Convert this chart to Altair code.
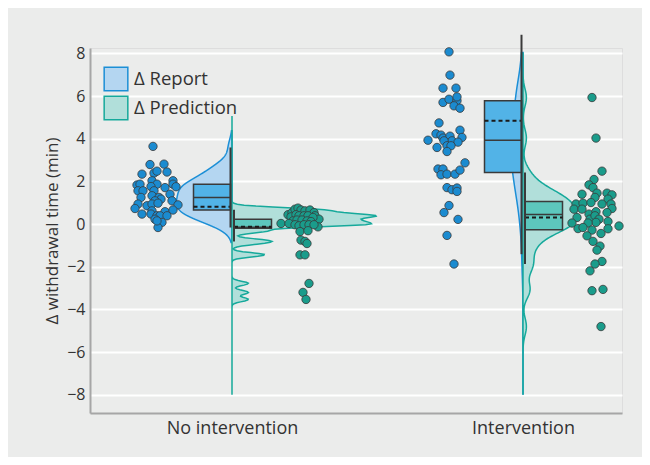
import altair as alt
import pandas as pd

categories = ["No intervention", "Intervention"]
series_names = ["Δ Report", "Δ Prediction"]

noint_report_v = [3.64, 2.79, 2.81, 2.34, 2.39, 2.48, 2.44, 2.03, 1.83, 1.87, 2.03, 1.87, 1.76, 1.71, 1.87,
                  1.56, 1.56, 1.56, 1.40, 1.75, 1.33, 1.25, 1.25, 1.17, 1.09, 1.09, 0.94, 0.86, 0.94, 0.98,
                  0.90, 0.73, 0.62, 0.58, 0.66, 0.47, 0.47, 0.39, 0.39, 0.23, 0.39, 0.08, -0.16, 0.15]
noint_report_j = [-79, -82, -68, -90, -78, -75, -65, -59, -95, -92, -80, -75, -81, -67, -59,
                  -94, -89, -78, -62, -56, -80, -73, -91, -71, -77, -60, -94, -85, -80, -74,
                  -54, -97, -80, -67, -59, -90, -81, -75, -72, -77, -65, -70, -74, -75]

noint_pred_v = [0.03, 0.44, 0.54, 0.70, 0.75, 0.66, 0.62, 0.66, 0.54, 0.39, 0.23, -0.13, 0.34, 0.44, 0.39,
                0.39, 0.39, 0.31, 0.15, 0.19, 0.19, 0.15, 0.12, 0.03, -0.03, -0.08, -0.03, -0.03, -0.03,
                -0.35, -0.31, -0.75, -0.81, -0.91, -1.44, -1.44, -2.78, -3.20, -3.53]
noint_pred_j = [49, 56, 60, 63, 66, 69, 73, 78, 82, 83, 87, 86, 59, 64, 67,
                72, 76, 81, 61, 65, 70, 75, 79, 57, 63, 67, 72, 77, 82,
                68, 76, 69, 73, 75, 68, 73, 77, 71, 74]

int_report_v = [8.07, 6.98, 6.37, 6.37, 5.70, 5.85, 5.78, 5.96, 5.54, 5.43, 4.74, 4.40, 4.23, 3.93, 4.17,
                4.03, 4.12, 3.90, 3.90, 4.06, 3.84, 3.59, 3.67, 3.67, 3.40, 2.87, 2.58, 2.58, 2.31, 2.34,
                2.34, 2.53, 1.71, 1.61, 1.69, 1.53, 0.87, 0.54, 0.22, -0.53, -1.87]
int_report_j = [-74, -73, -80, -67, -80, -74, -66, -66, -69, -63, -84, -63, -87, -95, -82,
                -80, -73, -71, -79, -61, -65, -86, -76, -72, -76, -58, -85, -80, -82, -76,
                -68, -63, -76, -71, -66, -66, -74, -79, -65, -76, -69]

int_pred_v = [5.93, 4.03, 2.48, 2.09, 1.84, 1.71, 1.45, 1.40, 1.45, 1.37, 1.25, 1.17, 0.94, 0.98, 1.01,
              0.94, 0.94, 0.70, 0.70, 0.73, 0.47, 0.58, 0.54, 0.31, 0.23, 0.39, 0.23, 0.08, 0.05, 0.05,
              0.12, -0.21, -0.16, -0.28, -0.22, -0.09, -0.44, -0.55, -0.81, -1.03, -1.22, -1.75, -1.87,
              -2.19, -3.12, -3.06, -4.80]
int_pred_j = [69, 73, 79, 71, 66, 70, 74, 59, 84, 89, 72, 85, 53, 60, 68,
              79, 88, 51, 59, 89, 66, 73, 84, 54, 67, 72, 76, 73, 49, 65,
              85, 55, 60, 69, 85, 96, 78, 64, 70, 77, 74, 79, 72,
              67, 69, 80, 78]

# ---- box statistics: order (No int, Report), (No int, Pred), (Int, Report), (Int, Pred) ----
box_group = ["No intervention", "No intervention", "Intervention", "Intervention"]
box_series = ["Δ Report", "Δ Prediction", "Δ Report", "Δ Prediction"]
box_q1 = [0.66, -0.19, 2.42, -0.27]
box_med = [1.25, -0.15, 3.93, 0.45]
box_q3 = [1.87, 0.23, 5.78, 1.06]
box_mean = [0.81, -0.13, 4.84, 0.31]
whisk_lo = [-0.16, -0.81, -1.41, -1.87]
whisk_hi = [3.59, 0.67, 8.87, 2.42]

# ---- layout / style constants ----
W, H = 532, 365
CENTER = {"No intervention": 142, "Intervention": 433}
BG = "#ebeceb"
DARK = "#3a3a3a"
VIOLIN_FILL = ["#b4d6f1", "#b1dfda"]
VIOLIN_STROKE = ["#1c8fd6", "#16a99b"]
BOX_FILL = {"Δ Report": "#52b3e7", "Δ Prediction": "#5dc7bd"}
POINT_FILL = {"Δ Report": "#1b8bd0", "Δ Prediction": "#1a9c8b"}
FONT = "Open Sans"

rows = []
for grp, ser, vals, jit in [
    ("No intervention", "Δ Report", noint_report_v, noint_report_j),
    ("No intervention", "Δ Prediction", noint_pred_v, noint_pred_j),
    ("Intervention", "Δ Report", int_report_v, int_report_j),
    ("Intervention", "Δ Prediction", int_pred_v, int_pred_j),
]:
    for v, j in zip(vals, jit):
        rows.append({"group": grp, "series": ser, "v": v, "jit": j})
points = pd.DataFrame(rows)
points["x"] = points["group"].map(CENTER) + points["jit"]
points["pfill"] = points["series"].map(POINT_FILL)

boxes = pd.DataFrame({"group": box_group, "series": box_series, "q1": box_q1, "med": box_med,
                      "q3": box_q3, "mean": box_mean, "lo": whisk_lo, "hi": whisk_hi})
boxes["c"] = boxes["group"].map(CENTER)
is_rep = boxes["series"] == "Δ Report"
boxes["xl"] = boxes["c"] + is_rep.map({True: -38.5, False: 2.0})
boxes["xr"] = boxes["c"] + is_rep.map({True: -1.5, False: 39.5})
boxes["xw"] = boxes["c"] + is_rep.map({True: -1.5, False: 2.0})
boxes["bfill"] = boxes["series"].map(BOX_FILL)

xscale = alt.Scale(domain=[0, W], nice=False, zero=False)
yscale = alt.Scale(domain=[-8.85, 8.25], nice=False, zero=False)
xaxis = alt.Axis(values=[CENTER["No intervention"], CENTER["Intervention"]],
                 labelExpr="datum.value < 300 ? 'No intervention' : 'Intervention'",
                 ticks=False, grid=False, title=None, domainColor="#a6a6a6", domainWidth=2,
                 labelFontSize=18, labelColor="#333333", labelPadding=6, labelFont=FONT)
yaxis = alt.Axis(values=list(range(-8, 9, 2)), format="d", ticks=False, grid=True,
                 gridColor="white", gridWidth=2, domainColor="#a6a6a6", domainWidth=2,
                 labelFontSize=16, labelColor="#333333", labelPadding=5, labelFont=FONT,
                 title="Δ withdrawal time (min)", titleFontSize=17, titleFontWeight="normal",
                 titleColor="#333333", titleFont=FONT, titlePadding=5)


def X(f):
    return alt.X(f, type="quantitative", scale=xscale, axis=xaxis)


def Y(f):
    return alt.Y(f, type="quantitative", scale=yscale, axis=yaxis)


legend = alt.Legend(title=None, orient="none", legendX=13, legendY=18, symbolType="square",
                    symbolSize=560, symbolStrokeWidth=1.5, labelFontSize=18.5, labelColor="#333333",
                    labelFont=FONT, rowPadding=-1, padding=0, labelOffset=5, symbolOpacity=1)
fill_enc = alt.Fill("series:N", scale=alt.Scale(domain=series_names, range=VIOLIN_FILL), legend=legend)
stroke_enc = alt.Stroke("series:N", scale=alt.Scale(domain=series_names, range=VIOLIN_STROKE), legend=legend)

# violin settings: (group, series, extent, bandwidth, side, px per density unit)
violins = [
    ("No intervention", "Δ Report", [-0.86, 4.37], 0.38, -1, 138),
    ("No intervention", "Δ Prediction", [-8.0, 5.07], 0.1, 1, 160),
    ("Intervention", "Δ Report", [-8.0, 8.04], 0.9, -1, 70),
    ("Intervention", "Δ Prediction", [-8.0, 8.04], 0.4, 1, 160),
]

base_pts = alt.Chart(points)
layers = []
for grp, ser, ext, bw, side, sc in violins:
    c = CENTER[grp]
    layer = (
        base_pts.transform_filter(f"datum.group == '{grp}' && datum.series == '{ser}'")
        .transform_density("v", as_=["v", "density"], extent=ext, bandwidth=bw, steps=300,
                           groupby=["series"])
        .transform_calculate(xpos=f"{c} + {side} * datum.density * {sc}", xbase=f"{c}")
        .mark_area(orient="horizontal", strokeWidth=1.5, opacity=1)
        .encode(y=Y("v"), x=X("xpos"), x2=alt.X2("xbase"), fill=fill_enc, stroke=stroke_enc)
    )
    layers.append(layer)

base_box = alt.Chart(boxes)
rects = base_box.mark_rect(stroke=DARK, strokeWidth=1.5).encode(
    x=X("xl"), x2=alt.X2("xr"), y=Y("q1"), y2=alt.Y2("q3"), fill=alt.Fill("bfill:N", scale=None))
medians = base_box.mark_rule(color=DARK, strokeWidth=1.5).encode(
    x=X("xl"), x2=alt.X2("xr"), y=Y("med"))
means = base_box.mark_rule(color="#1a1a1a", strokeWidth=2, strokeDash=[4, 3]).encode(
    x=X("xl"), x2=alt.X2("xr"), y=Y("mean"))
whiskers = base_box.mark_rule(color=DARK, strokeWidth=2).encode(
    x=X("xw"), y=Y("lo"), y2=alt.Y2("hi"))

dots = base_pts.mark_circle(size=70, opacity=1, stroke=DARK, strokeWidth=0.8).encode(
    x=X("x"), y=Y("v"), fill=alt.Fill("pfill:N", scale=None))

chart = alt.layer(*layers, rects, medians, means, whiskers, dots).properties(
    width=W, height=H,
    autosize=alt.AutoSizeParams(type="none"),
    padding={"left": 82, "top": 40, "right": 20, "bottom": 44},
    background=BG,
).configure_view(stroke=None, fill=BG).configure(font=FONT)

chart.save("out.html", embed_options={"renderer": "svg", "actions": False})
